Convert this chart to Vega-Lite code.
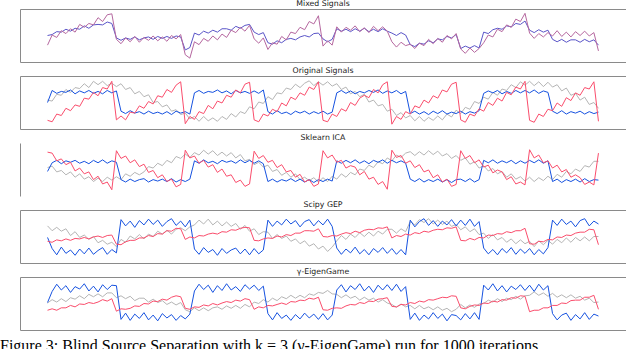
{
"$schema": "https://vega.github.io/schema/vega-lite/v6.json",
"background": "white",
"padding": {"left": 0, "top": 0, "right": 0, "bottom": 0},
"spacing": 5,
"resolve": {"scale": {"color": "independent", "x": "independent", "y": "independent"}},
"config": {
 "view": {"stroke": null},
 "title": {"fontSize": 7.8, "font": "DejaVu Sans", "fontWeight": "normal", "color": "#222222", "offset": 1},
 "axisY": {"domainColor": "#8a8a8a", "domainWidth": 1, "gridColor": "#8a8a8a", "gridWidth": 1, "gridOpacity": 1, "ticks": false, "labels": false, "title": null, "minExtent": 0, "maxExtent": 0}
},
"title": {"text": "Figure 3: Blind Source Separation with k = 3 (γ-EigenGame) run for 1000 iterations", "orient": "bottom", "anchor": "start", "dx": -20, "font": "Liberation Serif", "fontSize": 16, "fontWeight": "normal", "color": "#000000", "offset": 8},
"data": {"values": [
{"i":0,"ma":30,"mb":50,"oa":55,"ob":50,"oc":13,"sa":54,"sb":46,"sc":86,"ga":72,"gb":48,"gc":40,"ea":51,"eb":52,"ec":36},
{"i":1,"ma":51,"mb":52,"oa":53,"ob":75,"oc":10,"sa":57,"sb":64,"sc":84,"ga":62,"gb":25,"gc":38,"ea":58,"eb":75,"ec":39},
{"i":2,"ma":46,"mb":58,"oa":67,"ob":69,"oc":26,"sa":45,"sb":69,"sc":68,"ga":69,"gb":12,"gc":43,"ea":53,"eb":90,"ec":36},
{"i":3,"ma":60,"mb":57,"oa":65,"ob":73,"oc":23,"sa":48,"sb":62,"sc":72,"ga":61,"gb":28,"gc":41,"ea":60,"eb":78,"ec":41},
{"i":4,"ma":54,"mb":63,"oa":77,"ob":71,"oc":38,"sa":39,"sb":68,"sc":60,"ga":66,"gb":15,"gc":45,"ea":54,"eb":87,"ec":41},
{"i":5,"ma":64,"mb":59,"oa":71,"ob":76,"oc":33,"sa":45,"sb":65,"sc":65,"ga":52,"gb":22,"gc":42,"ea":62,"eb":73,"ec":46},
{"i":6,"ma":57,"mb":65,"oa":81,"ob":68,"oc":45,"sa":34,"sb":69,"sc":47,"ga":60,"gb":11,"gc":46,"ea":59,"eb":85,"ec":43},
{"i":7,"ma":73,"mb":63,"oa":79,"ob":74,"oc":42,"sa":41,"sb":63,"sc":53,"ga":48,"gb":24,"gc":45,"ea":66,"eb":80,"ec":49},
{"i":8,"ma":67,"mb":70,"oa":89,"ob":70,"oc":59,"sa":30,"sb":67,"sc":41,"ga":53,"gb":14,"gc":48,"ea":60,"eb":91,"ec":48},
{"i":9,"ma":75,"mb":65,"oa":81,"ob":75,"oc":57,"sa":35,"sb":62,"sc":45,"ga":44,"gb":26,"gc":45,"ea":69,"eb":76,"ec":52},
{"i":10,"ma":72,"mb":72,"oa":94,"ob":69,"oc":71,"sa":25,"sb":69,"sc":29,"ga":50,"gb":13,"gc":49,"ea":64,"eb":86,"ec":50},
{"i":11,"ma":87,"mb":73,"oa":87,"ob":73,"oc":64,"sa":32,"sb":64,"sc":36,"ga":37,"gb":21,"gc":51,"ea":70,"eb":74,"ec":53},
{"i":12,"ma":79,"mb":72,"oa":94,"ob":68,"oc":81,"sa":25,"sb":70,"sc":20,"ga":42,"gb":27,"gc":48,"ea":64,"eb":89,"ec":58},
{"i":13,"ma":93,"mb":78,"oa":85,"ob":75,"oc":78,"sa":34,"sb":63,"sc":24,"ga":34,"gb":13,"gc":52,"ea":72,"eb":79,"ec":55},
{"i":14,"ma":95,"mb":75,"oa":90,"ob":70,"oc":94,"sa":28,"sb":68,"sc":8,"ga":38,"gb":23,"gc":53,"ea":72,"eb":88,"ec":60},
{"i":15,"ma":42,"mb":45,"oa":83,"ob":74,"oc":14,"sa":35,"sb":65,"sc":89,"ga":29,"gb":16,"gc":34,"ea":62,"eb":87,"ec":34},
{"i":16,"ma":33,"mb":40,"oa":89,"ob":32,"oc":22,"sa":29,"sb":29,"sc":73,"ga":44,"gb":85,"gc":33,"ea":66,"eb":17,"ec":39},
{"i":17,"ma":45,"mb":45,"oa":77,"ob":27,"oc":14,"sa":41,"sb":24,"sc":78,"ga":38,"gb":72,"gc":39,"ea":60,"eb":30,"ec":38},
{"i":18,"ma":37,"mb":42,"oa":81,"ob":33,"oc":30,"sa":36,"sb":30,"sc":64,"ga":51,"gb":82,"gc":42,"ea":65,"eb":15,"ec":40},
{"i":19,"ma":48,"mb":47,"oa":68,"ob":28,"oc":28,"sa":44,"sb":25,"sc":70,"ga":45,"gb":69,"gc":42,"ea":56,"eb":28,"ec":45},
{"i":20,"ma":36,"mb":41,"oa":73,"ob":31,"oc":43,"sa":39,"sb":29,"sc":56,"ga":54,"gb":83,"gc":47,"ea":61,"eb":19,"ec":44},
{"i":21,"ma":46,"mb":45,"oa":62,"ob":26,"oc":38,"sa":45,"sb":31,"sc":61,"ga":45,"gb":74,"gc":47,"ea":61,"eb":31,"ec":50},
{"i":22,"ma":40,"mb":47,"oa":66,"ob":32,"oc":52,"sa":56,"sb":24,"sc":44,"ga":55,"gb":86,"gc":52,"ea":53,"eb":16,"ec":49},
{"i":23,"ma":49,"mb":42,"oa":50,"ob":27,"oc":47,"sa":53,"sb":29,"sc":48,"ga":50,"gb":75,"gc":50,"ea":59,"eb":26,"ec":55},
{"i":24,"ma":39,"mb":48,"oa":52,"ob":30,"oc":64,"sa":63,"sb":26,"sc":33,"ga":61,"gb":84,"gc":56,"ea":52,"eb":14,"ec":54},
{"i":25,"ma":47,"mb":44,"oa":41,"ob":26,"oc":61,"sa":58,"sb":30,"sc":39,"ga":55,"gb":71,"gc":55,"ea":56,"eb":29,"ec":59},
{"i":26,"ma":38,"mb":48,"oa":45,"ob":31,"oc":77,"sa":69,"sb":25,"sc":25,"ga":63,"gb":81,"gc":62,"ea":48,"eb":20,"ec":57},
{"i":27,"ma":50,"mb":44,"oa":32,"ob":25,"oc":71,"sa":64,"sb":31,"sc":30,"ga":55,"gb":87,"gc":61,"ea":53,"eb":27,"ec":63},
{"i":28,"ma":43,"mb":49,"oa":35,"ob":32,"oc":86,"sa":77,"sb":24,"sc":14,"ga":65,"gb":73,"gc":67,"ea":47,"eb":15,"ec":66},
{"i":29,"ma":52,"mb":47,"oa":25,"ob":28,"oc":93,"sa":73,"sb":29,"sc":19,"ga":68,"gb":82,"gc":66,"ea":52,"eb":25,"ec":64},
{"i":30,"ma":10,"mb":20,"oa":28,"ob":31,"oc":6,"sa":82,"sb":25,"sc":90,"ga":62,"gb":70,"gc":44,"ea":37,"eb":18,"ec":40},
{"i":31,"ma":3,"mb":25,"oa":16,"ob":26,"oc":21,"sa":75,"sb":30,"sc":74,"ga":70,"gb":84,"gc":49,"ea":33,"eb":28,"ec":38},
{"i":32,"ma":37,"mb":55,"oa":21,"ob":70,"oc":15,"sa":85,"sb":68,"sc":78,"ga":74,"gb":24,"gc":47,"ea":41,"eb":76,"ec":43},
{"i":33,"ma":31,"mb":51,"oa":11,"ob":75,"oc":31,"sa":80,"sb":63,"sc":63,"ga":84,"gb":13,"gc":52,"ea":35,"eb":90,"ec":42},
{"i":34,"ma":44,"mb":59,"oa":21,"ob":69,"oc":27,"sa":90,"sb":70,"sc":69,"ga":76,"gb":27,"gc":51,"ea":41,"eb":79,"ec":47},
{"i":35,"ma":38,"mb":55,"oa":12,"ob":73,"oc":44,"sa":82,"sb":64,"sc":55,"ga":86,"gb":17,"gc":55,"ea":35,"eb":88,"ec":45},
{"i":36,"ma":49,"mb":61,"oa":18,"ob":71,"oc":37,"sa":89,"sb":67,"sc":60,"ga":74,"gb":23,"gc":57,"ea":41,"eb":73,"ec":50},
{"i":37,"ma":41,"mb":57,"oa":11,"ob":76,"oc":53,"sa":79,"sb":62,"sc":44,"ga":82,"gb":11,"gc":55,"ea":43,"eb":87,"ec":47},
{"i":38,"ma":53,"mb":64,"oa":21,"ob":70,"oc":49,"sa":86,"sb":69,"sc":51,"ga":72,"gb":25,"gc":60,"ea":38,"eb":77,"ec":51},
{"i":39,"ma":46,"mb":64,"oa":15,"ob":74,"oc":65,"sa":78,"sb":65,"sc":36,"ga":80,"gb":15,"gc":59,"ea":45,"eb":91,"ec":54},
{"i":40,"ma":61,"mb":61,"oa":27,"ob":68,"oc":61,"sa":85,"sb":68,"sc":39,"ga":71,"gb":22,"gc":64,"ea":40,"eb":78,"ec":52},
{"i":41,"ma":56,"mb":69,"oa":20,"ob":75,"oc":76,"sa":74,"sb":63,"sc":23,"ga":77,"gb":26,"gc":63,"ea":46,"eb":85,"ec":57},
{"i":42,"ma":67,"mb":65,"oa":31,"ob":70,"oc":70,"sa":81,"sb":70,"sc":28,"ga":65,"gb":14,"gc":67,"ea":40,"eb":75,"ec":55},
{"i":43,"ma":59,"mb":71,"oa":27,"ob":73,"oc":88,"sa":68,"sb":64,"sc":15,"ga":73,"gb":24,"gc":69,"ea":48,"eb":89,"ec":60},
{"i":44,"ma":71,"mb":73,"oa":41,"ob":69,"oc":92,"sa":71,"sb":69,"sc":20,"ga":61,"gb":12,"gc":68,"ea":43,"eb":80,"ec":58},
{"i":45,"ma":43,"mb":57,"oa":37,"ob":74,"oc":14,"sa":60,"sb":63,"sc":88,"ga":66,"gb":25,"gc":42,"ea":53,"eb":88,"ec":38},
{"i":46,"ma":34,"mb":52,"oa":51,"ob":69,"oc":10,"sa":65,"sb":68,"sc":73,"ga":54,"gb":14,"gc":41,"ea":50,"eb":77,"ec":43},
{"i":47,"ma":45,"mb":56,"oa":48,"ob":76,"oc":26,"sa":55,"sb":62,"sc":79,"ga":60,"gb":22,"gc":45,"ea":58,"eb":86,"ec":41},
{"i":48,"ma":21,"mb":35,"oa":62,"ob":31,"oc":22,"sa":59,"sb":25,"sc":65,"ga":59,"gb":84,"gc":47,"ea":53,"eb":29,"ec":46},
{"i":49,"ma":35,"mb":32,"oa":56,"ob":26,"oc":36,"sa":46,"sb":30,"sc":69,"ga":46,"gb":71,"gc":46,"ea":61,"eb":16,"ec":45},
{"i":50,"ma":32,"mb":39,"oa":70,"ob":33,"oc":31,"sa":50,"sb":24,"sc":54,"ga":54,"gb":82,"gc":51,"ea":56,"eb":31,"ec":48},
{"i":51,"ma":48,"mb":35,"oa":68,"ob":27,"oc":49,"sa":38,"sb":29,"sc":60,"ga":46,"gb":74,"gc":49,"ea":64,"eb":19,"ec":51},
{"i":52,"ma":41,"mb":42,"oa":80,"ob":30,"oc":43,"sa":44,"sb":26,"sc":45,"ga":51,"gb":86,"gc":54,"ea":60,"eb":26,"ec":48},
{"i":53,"ma":57,"mb":44,"oa":77,"ob":25,"oc":61,"sa":34,"sb":31,"sc":48,"ga":40,"gb":76,"gc":52,"ea":67,"eb":15,"ec":54},
{"i":54,"ma":54,"mb":41,"oa":88,"ob":32,"oc":56,"sa":41,"sb":25,"sc":34,"ga":45,"gb":83,"gc":57,"ea":61,"eb":27,"ec":53},
{"i":55,"ma":67,"mb":47,"oa":81,"ob":28,"oc":70,"sa":29,"sb":30,"sc":40,"ga":35,"gb":70,"gc":57,"ea":67,"eb":18,"ec":57},
{"i":56,"ma":62,"mb":50,"oa":90,"ob":32,"oc":65,"sa":34,"sb":24,"sc":24,"ga":41,"gb":81,"gc":62,"ea":62,"eb":30,"ec":56},
{"i":57,"ma":79,"mb":47,"oa":95,"ob":26,"oc":82,"sa":27,"sb":29,"sc":29,"ga":30,"gb":85,"gc":62,"ea":70,"eb":20,"ec":61},
{"i":58,"ma":74,"mb":54,"oa":85,"ob":31,"oc":77,"sa":33,"sb":23,"sc":15,"ga":35,"gb":72,"gc":61,"ea":67,"eb":28,"ec":59},
{"i":59,"ma":91,"mb":55,"oa":93,"ob":27,"oc":93,"sa":24,"sb":29,"sc":20,"ga":24,"gb":83,"gc":66,"ea":73,"eb":17,"ec":63},
{"i":60,"ma":28,"mb":43,"oa":86,"ob":32,"oc":13,"sa":33,"sb":25,"sc":89,"ga":30,"gb":74,"gc":50,"ea":71,"eb":29,"ec":37},
{"i":61,"ma":39,"mb":37,"oa":93,"ob":26,"oc":10,"sa":25,"sb":30,"sc":74,"ga":19,"gb":86,"gc":49,"ea":77,"eb":16,"ec":36},
{"i":62,"ma":30,"mb":42,"oa":84,"ob":30,"oc":26,"sa":36,"sb":26,"sc":80,"ga":28,"gb":71,"gc":52,"ea":70,"eb":26,"ec":40},
{"i":63,"ma":68,"mb":64,"oa":89,"ob":70,"oc":21,"sa":30,"sb":68,"sc":65,"ga":41,"gb":26,"gc":51,"ea":69,"eb":78,"ec":41},
{"i":64,"ma":57,"mb":59,"oa":77,"ob":75,"oc":37,"sa":41,"sb":63,"sc":69,"ga":52,"gb":13,"gc":55,"ea":62,"eb":89,"ec":40},
{"i":65,"ma":67,"mb":63,"oa":82,"ob":69,"oc":32,"sa":34,"sb":69,"sc":53,"ga":44,"gb":24,"gc":58,"ea":68,"eb":74,"ec":45},
{"i":66,"ma":61,"mb":58,"oa":68,"ob":74,"oc":50,"sa":44,"sb":64,"sc":58,"ga":55,"gb":16,"gc":56,"ea":61,"eb":87,"ec":48},
{"i":67,"ma":70,"mb":64,"oa":73,"ob":68,"oc":44,"sa":39,"sb":70,"sc":55,"ga":48,"gb":28,"gc":61,"ea":65,"eb":79,"ec":47},
{"i":68,"ma":58,"mb":59,"oa":62,"ob":73,"oc":59,"sa":51,"sb":63,"sc":39,"ga":58,"gb":14,"gc":58,"ea":57,"eb":91,"ec":52},
{"i":69,"ma":66,"mb":65,"oa":67,"ob":70,"oc":65,"sa":48,"sb":68,"sc":46,"ga":50,"gb":23,"gc":63,"ea":63,"eb":76,"ec":50},
{"i":70,"ma":56,"mb":58,"oa":51,"ob":75,"oc":60,"sa":59,"sb":62,"sc":30,"ga":59,"gb":12,"gc":65,"ea":57,"eb":86,"ec":55},
{"i":71,"ma":69,"mb":63,"oa":55,"ob":71,"oc":77,"sa":54,"sb":69,"sc":34,"ga":51,"gb":25,"gc":64,"ea":61,"eb":73,"ec":54},
{"i":72,"ma":60,"mb":58,"oa":43,"ob":76,"oc":70,"sa":66,"sb":65,"sc":19,"ga":61,"gb":17,"gc":68,"ea":53,"eb":88,"ec":59},
{"i":73,"ma":68,"mb":64,"oa":46,"ob":69,"oc":87,"sa":62,"sb":70,"sc":25,"ga":55,"gb":27,"gc":67,"ea":58,"eb":78,"ec":60},
{"i":74,"ma":59,"mb":59,"oa":32,"ob":74,"oc":93,"sa":74,"sb":63,"sc":9,"ga":65,"gb":15,"gc":70,"ea":51,"eb":89,"ec":62},
{"i":75,"ma":37,"mb":55,"oa":36,"ob":70,"oc":5,"sa":68,"sb":69,"sc":90,"ga":65,"gb":25,"gc":47,"ea":48,"eb":77,"ec":44},
{"i":76,"ma":26,"mb":50,"oa":23,"ob":75,"oc":21,"sa":80,"sb":64,"sc":75,"ga":57,"gb":13,"gc":52,"ea":42,"eb":90,"ec":43},
{"i":77,"ma":36,"mb":56,"oa":29,"ob":68,"oc":15,"sa":75,"sb":68,"sc":79,"ga":66,"gb":23,"gc":50,"ea":49,"eb":75,"ec":48},
{"i":78,"ma":29,"mb":51,"oa":18,"ob":73,"oc":31,"sa":84,"sb":63,"sc":63,"ga":60,"gb":12,"gc":55,"ea":43,"eb":85,"ec":47},
{"i":79,"ma":32,"mb":31,"oa":23,"ob":27,"oc":26,"sa":87,"sb":30,"sc":68,"ga":81,"gb":84,"gc":53,"ea":46,"eb":17,"ec":52},
{"i":80,"ma":23,"mb":27,"oa":12,"ob":32,"oc":43,"sa":79,"sb":25,"sc":54,"ga":74,"gb":70,"gc":58,"ea":39,"eb":30,"ec":50},
{"i":81,"ma":34,"mb":34,"oa":21,"ob":26,"oc":39,"sa":87,"sb":31,"sc":60,"ga":85,"gb":81,"gc":56,"ea":46,"eb":15,"ec":55},
{"i":82,"ma":29,"mb":32,"oa":11,"ob":31,"oc":55,"sa":80,"sb":24,"sc":45,"ga":79,"gb":87,"gc":61,"ea":39,"eb":26,"ec":53},
{"i":83,"ma":42,"mb":39,"oa":19,"ob":25,"oc":49,"sa":89,"sb":29,"sc":49,"ga":87,"gb":73,"gc":59,"ea":43,"eb":18,"ec":58},
{"i":84,"ma":33,"mb":35,"oa":13,"ob":32,"oc":64,"sa":81,"sb":25,"sc":33,"ga":76,"gb":83,"gc":63,"ea":37,"eb":31,"ec":57},
{"i":85,"ma":44,"mb":43,"oa":22,"ob":27,"oc":59,"sa":88,"sb":30,"sc":39,"ga":84,"gb":71,"gc":65,"ea":43,"eb":19,"ec":60},
{"i":86,"ma":36,"mb":41,"oa":14,"ob":33,"oc":76,"sa":78,"sb":24,"sc":24,"ga":75,"gb":82,"gc":64,"ea":36,"eb":28,"ec":63},
{"i":87,"ma":50,"mb":48,"oa":26,"ob":26,"oc":72,"sa":83,"sb":29,"sc":30,"ga":82,"gb":74,"gc":68,"ea":40,"eb":14,"ec":62},
{"i":88,"ma":43,"mb":45,"oa":20,"ob":30,"oc":88,"sa":73,"sb":23,"sc":15,"ga":71,"gb":85,"gc":67,"ea":33,"eb":27,"ec":66},
{"i":89,"ma":54,"mb":52,"oa":34,"ob":27,"oc":92,"sa":79,"sb":29,"sc":19,"ga":75,"gb":72,"gc":70,"ea":38,"eb":25,"ec":65},
{"i":90,"ma":22,"mb":23,"oa":27,"ob":32,"oc":14,"sa":69,"sb":30,"sc":89,"ga":64,"gb":84,"gc":42,"ea":48,"eb":16,"ec":41},
{"i":91,"ma":13,"mb":28,"oa":40,"ob":26,"oc":9,"sa":74,"sb":25,"sc":73,"ga":70,"gb":73,"gc":41,"ea":41,"eb":29,"ec":39},
{"i":92,"ma":24,"mb":24,"oa":36,"ob":31,"oc":26,"sa":61,"sb":31,"sc":79,"ga":60,"gb":86,"gc":46,"ea":47,"eb":18,"ec":44},
{"i":93,"ma":15,"mb":29,"oa":52,"ob":28,"oc":22,"sa":66,"sb":24,"sc":64,"ga":66,"gb":71,"gc":43,"ea":42,"eb":31,"ec":47},
{"i":94,"ma":23,"mb":24,"oa":48,"ob":33,"oc":37,"sa":53,"sb":29,"sc":70,"ga":54,"gb":81,"gc":48,"ea":49,"eb":17,"ec":46},
{"i":95,"ma":35,"mb":57,"oa":61,"ob":69,"oc":32,"sa":58,"sb":69,"sc":55,"ga":57,"gb":26,"gc":47,"ea":50,"eb":88,"ec":51},
{"i":96,"ma":51,"mb":54,"oa":57,"ob":74,"oc":50,"sa":47,"sb":64,"sc":59,"ga":46,"gb":14,"gc":53,"ea":57,"eb":78,"ec":50},
{"i":97,"ma":47,"mb":62,"oa":71,"ob":70,"oc":44,"sa":52,"sb":70,"sc":43,"ga":54,"gb":23,"gc":52,"ea":53,"eb":91,"ec":55},
{"i":98,"ma":63,"mb":65,"oa":65,"ob":75,"oc":59,"sa":41,"sb":63,"sc":49,"ga":43,"gb":12,"gc":56,"ea":60,"eb":76,"ec":53},
{"i":99,"ma":58,"mb":63,"oa":78,"ob":68,"oc":53,"sa":46,"sb":68,"sc":45,"ga":48,"gb":25,"gc":55,"ea":54,"eb":87,"ec":58},
{"i":100,"ma":72,"mb":70,"oa":75,"ob":73,"oc":71,"sa":34,"sb":64,"sc":29,"ga":38,"gb":16,"gc":60,"ea":61,"eb":74,"ec":57},
{"i":101,"ma":67,"mb":68,"oa":87,"ob":69,"oc":66,"sa":41,"sb":69,"sc":35,"ga":45,"gb":27,"gc":58,"ea":58,"eb":86,"ec":62},
{"i":102,"ma":84,"mb":75,"oa":81,"ob":75,"oc":82,"sa":30,"sb":62,"sc":20,"ga":35,"gb":13,"gc":62,"ea":65,"eb":79,"ec":61},
{"i":103,"ma":79,"mb":73,"oa":93,"ob":70,"oc":78,"sa":35,"sb":68,"sc":24,"ga":43,"gb":24,"gc":62,"ea":59,"eb":89,"ec":66},
{"i":104,"ma":96,"mb":80,"oa":86,"ob":75,"oc":94,"sa":26,"sb":63,"sc":18,"ga":35,"gb":15,"gc":67,"ea":66,"eb":77,"ec":65},
{"i":105,"ma":55,"mb":61,"oa":94,"ob":70,"oc":13,"sa":34,"sb":69,"sc":91,"ga":40,"gb":25,"gc":35,"ea":67,"eb":88,"ec":33},
{"i":106,"ma":44,"mb":56,"oa":85,"ob":76,"oc":9,"sa":25,"sb":64,"sc":74,"ga":29,"gb":12,"gc":34,"ea":74,"eb":75,"ec":36},
{"i":107,"ma":54,"mb":62,"oa":93,"ob":69,"oc":26,"sa":33,"sb":70,"sc":80,"ga":41,"gb":23,"gc":40,"ea":67,"eb":90,"ec":36},
{"i":108,"ma":47,"mb":57,"oa":83,"ob":74,"oc":21,"sa":27,"sb":63,"sc":64,"ga":33,"gb":14,"gc":39,"ea":72,"eb":78,"ec":41},
{"i":109,"ma":56,"mb":61,"oa":92,"ob":71,"oc":36,"sa":36,"sb":68,"sc":68,"ga":42,"gb":27,"gc":44,"ea":65,"eb":87,"ec":41},
{"i":110,"ma":49,"mb":42,"oa":82,"ob":32,"oc":33,"sa":29,"sb":25,"sc":53,"ga":34,"gb":84,"gc":43,"ea":71,"eb":29,"ec":46},
{"i":111,"ma":60,"mb":37,"oa":87,"ob":27,"oc":49,"sa":40,"sb":30,"sc":59,"ga":44,"gb":73,"gc":49,"ea":63,"eb":16,"ec":46},
{"i":112,"ma":48,"mb":42,"oa":74,"ob":33,"oc":42,"sa":34,"sb":23,"sc":45,"ga":37,"gb":86,"gc":48,"ea":68,"eb":26,"ec":51},
{"i":113,"ma":57,"mb":36,"oa":80,"ob":26,"oc":60,"sa":46,"sb":29,"sc":50,"ga":47,"gb":75,"gc":53,"ea":62,"eb":30,"ec":50},
{"i":114,"ma":47,"mb":41,"oa":65,"ob":31,"oc":54,"sa":41,"sb":25,"sc":34,"ga":38,"gb":82,"gc":52,"ea":68,"eb":15,"ec":56},
{"i":115,"ma":58,"mb":41,"oa":69,"ob":28,"oc":70,"sa":51,"sb":30,"sc":39,"ga":48,"gb":70,"gc":57,"ea":61,"eb":27,"ec":57},
{"i":116,"ma":50,"mb":36,"oa":55,"ob":32,"oc":65,"sa":46,"sb":24,"sc":33,"ga":41,"gb":83,"gc":59,"ea":65,"eb":18,"ec":57},
{"i":117,"ma":59,"mb":42,"oa":61,"ob":26,"oc":81,"sa":58,"sb":31,"sc":19,"ga":49,"gb":87,"gc":59,"ea":57,"eb":31,"ec":63},
{"i":118,"ma":49,"mb":37,"oa":46,"ob":31,"oc":78,"sa":55,"sb":25,"sc":24,"ga":41,"gb":72,"gc":65,"ea":61,"eb":17,"ec":63},
{"i":119,"ma":56,"mb":41,"oa":50,"ob":27,"oc":93,"sa":67,"sb":29,"sc":18,"ga":50,"gb":82,"gc":64,"ea":52,"eb":28,"ec":67},
{"i":120,"ma":18,"mb":30,"oa":38,"ob":30,"oc":11,"sa":67,"sb":28,"sc":84,"ga":50,"gb":76,"gc":33,"ea":53,"eb":24,"ec":38}
]},
"vconcat": [
{"title": "Mixed Signals", "width": 606, "height": 53,
 "transform": [{"fold": ["mb", "ma"], "as": ["k", "v"]}],
 "mark": {"type": "line", "strokeWidth": 1},
 "encoding": {
  "x": {"field": "i", "type": "quantitative", "scale": {"domain": [-6, 126], "nice": false, "zero": false}, "axis": null},
  "y": {"field": "v", "type": "quantitative", "scale": {"domain": [-5, 105], "nice": false, "zero": false}, "axis": {"grid": true, "values": [-5, 105]}},
  "color": {"field": "k", "type": "nominal", "scale": {"domain": ["mb", "ma"], "range": ["#5a55c8", "#b5679f"]}, "legend": null}
 }},
{"title": "Original Signals", "width": 606, "height": 53,
 "transform": [{"fold": ["oa", "ob", "oc"], "as": ["k", "v"]}],
 "mark": {"type": "line", "strokeWidth": 1},
 "encoding": {
  "x": {"field": "i", "type": "quantitative", "scale": {"domain": [-6, 126], "nice": false, "zero": false}, "axis": null},
  "y": {"field": "v", "type": "quantitative", "scale": {"domain": [-5, 105], "nice": false, "zero": false}, "axis": {"grid": true, "values": [-5, 105]}},
  "color": {"field": "k", "type": "nominal", "scale": {"domain": ["oa", "ob", "oc"], "range": ["#b5b5b5", "#1652e0", "#fa4d6c"]}, "legend": null}
 }},
{"title": "Sklearn ICA", "width": 606, "height": 53,
 "transform": [{"fold": ["sa", "sb", "sc"], "as": ["k", "v"]}],
 "mark": {"type": "line", "strokeWidth": 1},
 "encoding": {
  "x": {"field": "i", "type": "quantitative", "scale": {"domain": [-6, 126], "nice": false, "zero": false}, "axis": null},
  "y": {"field": "v", "type": "quantitative", "scale": {"domain": [-5, 105], "nice": false, "zero": false}, "axis": {"grid": false}},
  "color": {"field": "k", "type": "nominal", "scale": {"domain": ["sa", "sb", "sc"], "range": ["#b5b5b5", "#1652e0", "#fa4d6c"]}, "legend": null}
 }},
{"title": "Scipy GEP", "width": 606, "height": 53,
 "transform": [{"fold": ["ga", "gb", "gc"], "as": ["k", "v"]}],
 "mark": {"type": "line", "strokeWidth": 1},
 "encoding": {
  "x": {"field": "i", "type": "quantitative", "scale": {"domain": [-6, 126], "nice": false, "zero": false}, "axis": null},
  "y": {"field": "v", "type": "quantitative", "scale": {"domain": [-5, 105], "nice": false, "zero": false}, "axis": {"grid": true, "values": [-5, 105]}},
  "color": {"field": "k", "type": "nominal", "scale": {"domain": ["ga", "gb", "gc"], "range": ["#b5b5b5", "#1652e0", "#fa4d6c"]}, "legend": null}
 }},
{"title": "γ-EigenGame", "width": 606, "height": 53,
 "transform": [{"fold": ["ea", "eb", "ec"], "as": ["k", "v"]}],
 "mark": {"type": "line", "strokeWidth": 1},
 "encoding": {
  "x": {"field": "i", "type": "quantitative", "scale": {"domain": [-6, 126], "nice": false, "zero": false}, "axis": null},
  "y": {"field": "v", "type": "quantitative", "scale": {"domain": [-5, 105], "nice": false, "zero": false}, "axis": {"grid": true, "values": [-5, 105]}},
  "color": {"field": "k", "type": "nominal", "scale": {"domain": ["ea", "eb", "ec"], "range": ["#b5b5b5", "#1652e0", "#fa4d6c"]}, "legend": null}
 }}
]
}
